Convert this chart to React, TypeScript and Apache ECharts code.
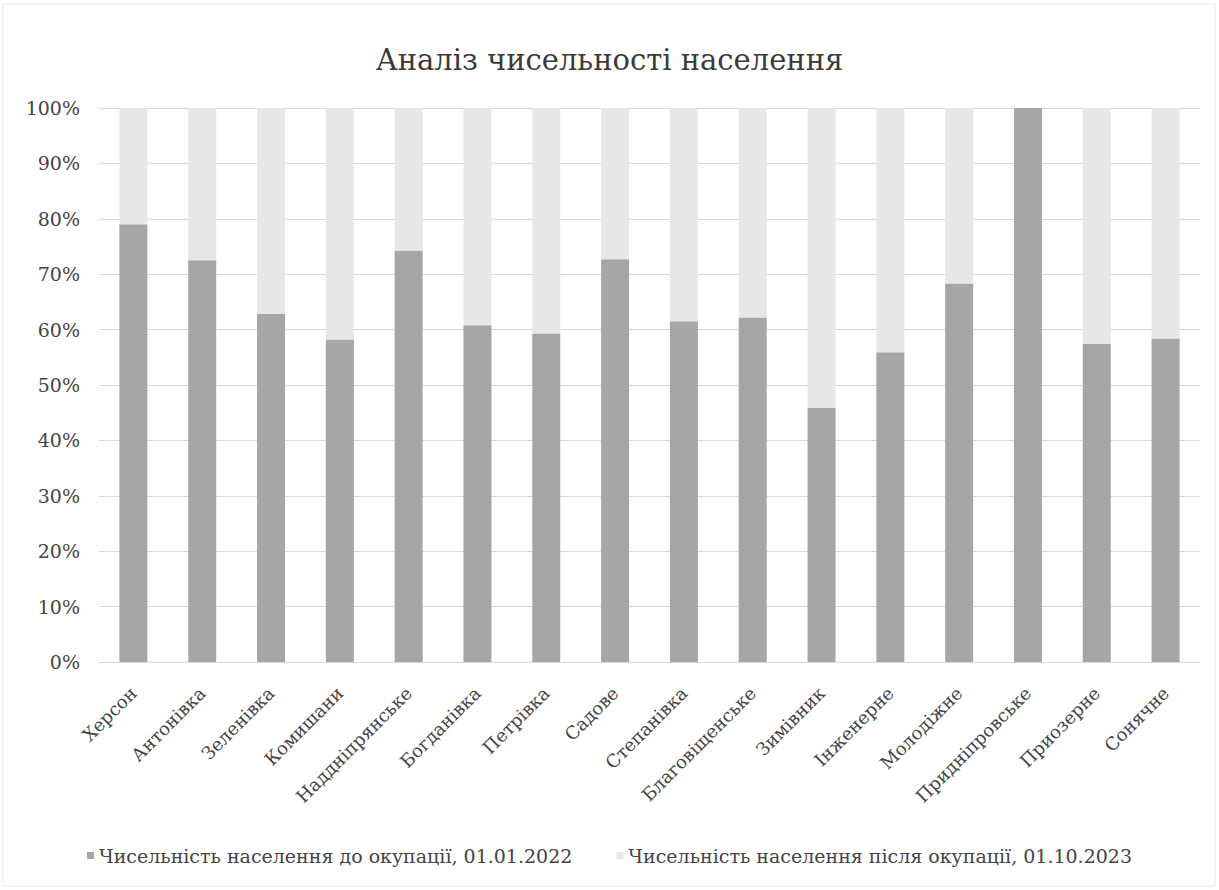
import React, { useEffect, useRef } from "react";
import * as echarts from "echarts";

const categories = [
  "Херсон",
  "Антонівка",
  "Зеленівка",
  "Комишани",
  "Наддніпрянське",
  "Богданівка",
  "Петрівка",
  "Садове",
  "Степанівка",
  "Благовіщенське",
  "Зимівник",
  "Інженерне",
  "Молодіжне",
  "Придніпровське",
  "Приозерне",
  "Сонячне",
];

const seriesNames = [
  "Чисельність населення до окупації, 01.01.2022",
  "Чисельність населення після окупації, 01.10.2023",
];

// share (%) of population before occupation
const beforeShare = [79.0, 72.5, 62.8, 58.2, 74.3, 60.8, 59.3, 72.7, 61.5, 62.2, 45.9, 55.9, 68.3, 100.0, 57.4, 58.4];
// share (%) of population after occupation
const afterShare = [21.0, 27.5, 37.2, 41.8, 25.7, 39.2, 40.7, 27.3, 38.5, 37.8, 54.1, 44.1, 31.7, 0.0, 42.6, 41.6];

const yTicks = ["0%", "10%", "20%", "30%", "40%", "50%", "60%", "70%", "80%", "90%", "100%"];

const FONT = "'DejaVu Serif', 'Liberation Serif', serif";
const TEXT = "#444444";

export default function App() {
  const ref = useRef<HTMLDivElement>(null);
  useEffect(() => {
    if (!ref.current) return;
    const chart = echarts.init(ref.current, null, { renderer: "svg" });
    chart.setOption({
      animation: false,
      backgroundColor: "#ffffff",
      textStyle: { fontFamily: FONT },
      title: {
        text: "Аналіз чисельності населення",
        left: "center",
        top: 40,
        textStyle: { fontFamily: FONT, fontSize: 29, fontWeight: "normal", color: "#3a3a3a" },
      },
      graphic: [
        {
          type: "rect",
          shape: { x: 3, y: 4, width: 1212, height: 882 },
          style: { fill: "none", stroke: "#e6e6e6", lineWidth: 1 },
          silent: true,
        },
      ],
      legend: {
        bottom: 20,
        left: "center",
        icon: "rect",
        itemWidth: 7,
        itemHeight: 7,
        itemGap: 44,
        textStyle: { fontFamily: FONT, fontSize: 19, color: TEXT },
        data: seriesNames,
      },
      grid: { left: 99, right: 19, top: 108, bottom: 228, containLabel: false },
      xAxis: {
        type: "category",
        data: categories,
        axisLine: { show: true, lineStyle: { color: "#d9d9d9" } },
        axisTick: { show: false },
        axisLabel: {
          rotate: 45,
          interval: 0,
          margin: 28,
          fontFamily: FONT,
          fontSize: 18,
          color: TEXT,
        },
      },
      yAxis: {
        type: "value",
        min: 0,
        max: 100,
        interval: 10,
        axisLine: { show: false },
        axisTick: { show: false },
        splitLine: { lineStyle: { color: "#d9d9d9", width: 1 } },
        axisLabel: {
          margin: 19,
          fontFamily: FONT,
          fontSize: 19,
          color: TEXT,
          formatter: (v: number) => yTicks[Math.round(v / 10)],
        },
      },
      series: [
        {
          name: seriesNames[0],
          type: "bar",
          stack: "total",
          barWidth: 28,
          data: beforeShare,
          itemStyle: { color: "#a7a5a5" },
        },
        {
          name: seriesNames[1],
          type: "bar",
          stack: "total",
          barWidth: 28,
          data: afterShare,
          itemStyle: { color: "#e9e6e6" },
        },
      ],
    });
    return () => chart.dispose();
  }, []);
  return (
    <div
      ref={ref}
      style={{ position: "fixed", left: 0, top: 0, width: 1219, height: 890 }}
    />
  );
}
